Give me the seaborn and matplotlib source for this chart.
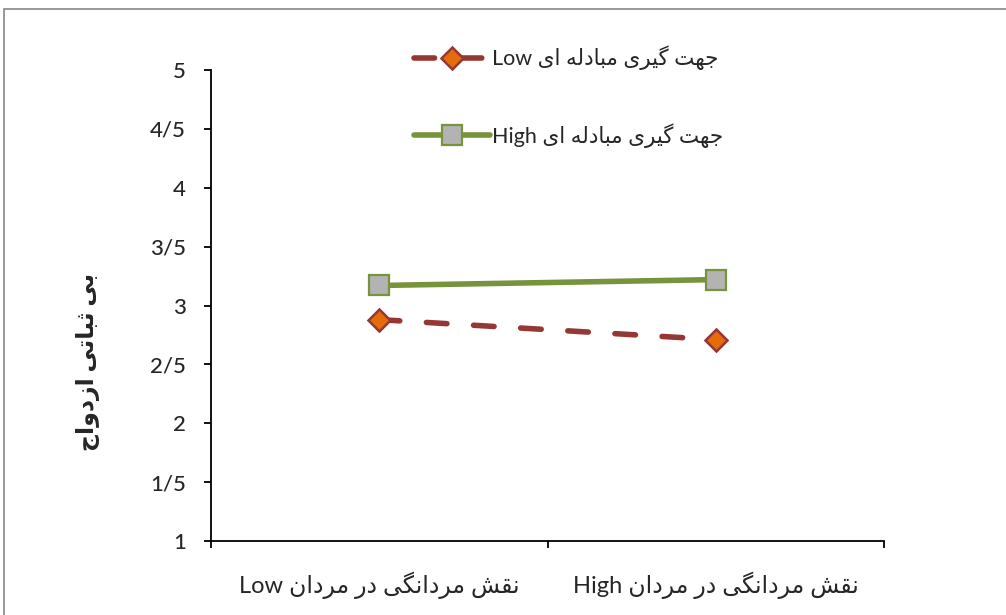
import pandas as pd
import matplotlib
matplotlib.use("Agg")
import matplotlib.pyplot as plt
import seaborn as sns
from matplotlib.lines import Line2D
from matplotlib.patches import Rectangle

# data
categories = ["نقش مردانگی در مردان Low", "نقش مردانگی در مردان High"]
series_names = ["جهت گیری مبادله ای Low", "جهت گیری مبادله ای High"]
low_values = [2.88, 2.71]
high_values = [3.17, 3.22]
y_ticks = [1, 1.5, 2, 2.5, 3, 3.5, 4, 4.5, 5]
y_title = "بی ثباتی ازدواج"

# Arabic presentation forms: isolated, final, initial, medial
FORMS = {
    "ا": ("\uFE8D", "\uFE8E", None, None),
    "ب": ("\uFE8F", "\uFE90", "\uFE91", "\uFE92"),
    "ت": ("\uFE95", "\uFE96", "\uFE97", "\uFE98"),
    "ث": ("\uFE99", "\uFE9A", "\uFE9B", "\uFE9C"),
    "ج": ("\uFE9D", "\uFE9E", "\uFE9F", "\uFEA0"),
    "د": ("\uFEA9", "\uFEAA", None, None),
    "ر": ("\uFEAD", "\uFEAE", None, None),
    "ز": ("\uFEAF", "\uFEB0", None, None),
    "ش": ("\uFEB5", "\uFEB6", "\uFEB7", "\uFEB8"),
    "ق": ("\uFED5", "\uFED6", "\uFED7", "\uFED8"),
    "ل": ("\uFEDD", "\uFEDE", "\uFEDF", "\uFEE0"),
    "م": ("\uFEE1", "\uFEE2", "\uFEE3", "\uFEE4"),
    "ن": ("\uFEE5", "\uFEE6", "\uFEE7", "\uFEE8"),
    "ه": ("\uFEE9", "\uFEEA", "\uFEEB", "\uFEEC"),
    "و": ("\uFEED", "\uFEEE", None, None),
    "ی": ("\uFBFC", "\uFBFD", "\uFBFE", "\uFBFF"),
    "گ": ("\uFB92", "\uFB93", "\uFB94", "\uFB95"),
}


def shape_word(word):
    out = []
    for i, ch in enumerate(word):
        if ch not in FORMS:
            out.append(ch)
            continue
        prev = word[i - 1] if i > 0 else None
        nxt = word[i + 1] if i < len(word) - 1 else None
        join_prev = prev in FORMS and FORMS[prev][2] is not None
        join_next = FORMS[ch][2] is not None and nxt in FORMS
        iso, fin, ini, med = FORMS[ch]
        if join_prev and join_next:
            out.append(med)
        elif join_prev:
            out.append(fin)
        elif join_next:
            out.append(ini)
        else:
            out.append(iso)
    return "".join(reversed(out))


def rtl(text):
    words = text.split(" ")
    vis = [shape_word(w) if any(c in FORMS for c in w) else w for w in words]
    return " ".join(reversed(vis))


df = pd.DataFrame({
    "x": [0, 1, 0, 1],
    "value": low_values + high_values,
    "series": [series_names[0]] * 2 + [series_names[1]] * 2,
})

sns.set_style("white")
plt.rcParams["font.family"] = ["Lato", "DejaVu Sans"]

red = "#953735"
orange = "#E46C0A"
green = "#77933C"
grey = "#B3B3B3"
lw = 4.0
dash = (3.7, 4.8)

fig = plt.figure(figsize=(10.06, 6.15), dpi=100)
ax = fig.add_axes([211 / 1006, 1 - 541 / 615, 673 / 1006, 471 / 615])

sns.lineplot(data=df, x="x", y="value", hue="series", style="series",
             palette={series_names[0]: red, series_names[1]: green},
             dashes={series_names[0]: dash, series_names[1]: ""},
             linewidth=lw, legend=False, ax=ax)
for line in ax.lines:
    line.set_dash_capstyle("round")
    line.set_solid_capstyle("round")

# markers drawn on top
ax.plot([0, 1], low_values, ls="none", marker="D", ms=11, mfc=orange, mec=red, mew=1.8, zorder=5)
ax.plot([0, 1], high_values, ls="none", marker="s", ms=15, mfc=grey, mec=green, mew=1.6, zorder=5)

ax.set_xlim(-0.5, 1.5)
ax.set_ylim(1, 5)
ax.set_xticks([-0.5, 0.5, 1.5])
ax.set_xticklabels([])
ax.set_xticks([0, 1], minor=True)
ax.set_xticklabels([rtl(c) for c in categories], minor=True, fontsize=17)
ax.tick_params(axis="x", which="major", bottom=True, length=5, width=1.3, direction="out", color="black")
ax.tick_params(axis="x", which="minor", bottom=True, length=0, pad=22)
ax.set_yticks(y_ticks)
ax.set_yticklabels([str(t).replace(".", "/") if t % 1 else str(int(t)) for t in y_ticks],
                   fontsize=16, fontweight="medium")
ax.tick_params(axis="y", left=True, length=5, width=1.3, direction="out", color="black", pad=13)
ax.set_xlabel("")
ax.set_ylabel("")

for side in ["top", "right"]:
    ax.spines[side].set_visible(False)
for side in ["left", "bottom"]:
    ax.spines[side].set_color("black")
    ax.spines[side].set_linewidth(1.3)

fig.text(88 / 1006, 1 - 362 / 615, rtl(y_title), rotation=90, ha="center", va="center",
         fontsize=17, fontweight="bold")

handles = [
    Line2D([], [], color=red, lw=lw, linestyle=(0, dash), dash_capstyle="round",
           marker="D", ms=11, mfc=orange, mec=red, mew=1.8),
    Line2D([], [], color=green, lw=lw, solid_capstyle="round",
           marker="s", ms=15, mfc=grey, mec=green, mew=1.6),
]
fig.legend(handles, [rtl(s) for s in series_names], loc="upper left",
           bbox_to_anchor=(403 / 1006, 1 - 35 / 615), frameon=False, fontsize=15.5,
           handlelength=3.55, handletextpad=0.1, labelspacing=2.45, borderpad=0)

# chart area border
fig.add_artist(Rectangle((4 / 1006, -0.05), 1.2, 1.05 - 9.5 / 615, transform=fig.transFigure,
                         fill=False, edgecolor="#868686", lw=1.2))

fig.savefig("out.png", dpi=100)
